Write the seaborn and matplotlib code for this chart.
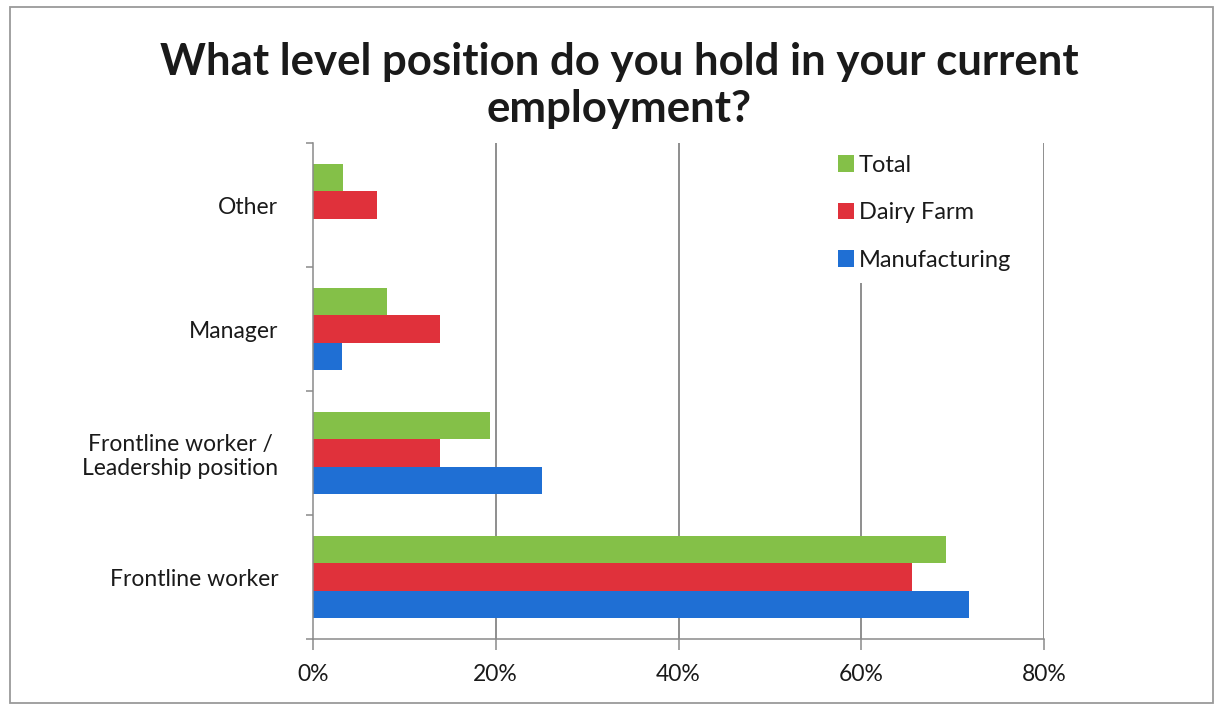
import matplotlib
matplotlib.use("Agg")
import matplotlib.pyplot as plt
from matplotlib.patches import Rectangle
from matplotlib.ticker import FixedLocator, PercentFormatter
import seaborn as sns
import pandas as pd

# Survey results (% of respondents)
categories = ["Other", "Manager", "Frontline worker /\nLeadership position", "Frontline worker"]
groups = ["Total", "Dairy Farm", "Manufacturing"]
total = [3.3, 8.1, 19.4, 69.3]
dairy_farm = [7.0, 13.9, 13.9, 65.5]
manufacturing = [0.0, 3.2, 25.1, 71.8]
x_ticks = [0, 20, 40, 60, 80]

colors = {"Total": "#84C048", "Dairy Farm": "#E0313B", "Manufacturing": "#1F6FD4"}

rows = []
for grp, vals in zip(groups, [total, dairy_farm, manufacturing]):
    for cat, v in zip(categories, vals):
        rows.append({"Position": cat, "Group": grp, "Percent": v})
df = pd.DataFrame(rows)

sns.set_theme(style="white")
plt.rcParams["font.family"] = ["Lato", "DejaVu Sans"]
text_color = "#1a1a1a"

fig = plt.figure(figsize=(12.16, 7.06), dpi=100)
ax = fig.add_axes([313 / 1216, 1 - 639 / 706, (1044 - 313) / 1216, (639 - 143) / 706])

sns.barplot(data=df, y="Position", x="Percent", hue="Group", order=categories,
            hue_order=groups, palette=colors, orient="h", width=0.66,
            saturation=1, errorbar=None, ax=ax, linewidth=0)

ax.set_xlim(0, 80)
ax.set_ylim(3.5, -0.5)
ax.set_xlabel("")
ax.set_ylabel("")

ax.xaxis.set_major_locator(FixedLocator(x_ticks))
ax.xaxis.set_major_formatter(PercentFormatter(decimals=0))
for x in x_ticks[1:]:
    ax.axvline(x, color="#707070", lw=1.1, zorder=0)

for side in ["top", "right"]:
    ax.spines[side].set_visible(False)
for side in ["left", "bottom"]:
    ax.spines[side].set_color("#8a8a8a")
    ax.spines[side].set_linewidth(1.1)

ax.tick_params(axis="x", which="major", length=8, width=1.1, color="#8a8a8a",
               direction="out", bottom=True, pad=10, labelsize=16.5, labelcolor=text_color)
ax.tick_params(axis="y", which="major", length=0, pad=25, labelsize=16.5, labelcolor=text_color)
ax.yaxis.set_minor_locator(FixedLocator([-0.5, 0.5, 1.5, 2.5, 3.5]))
ax.tick_params(axis="y", which="minor", length=5, width=1.1, color="#8a8a8a",
               direction="out", left=True)
for lbl in ax.get_yticklabels():
    lbl.set_multialignment("center")

leg = ax.legend(loc="upper left", bbox_to_anchor=(826 / 1216, 1 - 143 / 706),
                bbox_transform=fig.transFigure, frameon=True, fontsize=17,
                handlelength=0.68, handleheight=0.68, handletextpad=0.2,
                labelspacing=1.12, borderpad=0.5, borderaxespad=0)
leg.get_frame().set_facecolor("white")
leg.get_frame().set_edgecolor("none")
leg.get_frame().set_alpha(1)
leg.set_zorder(5)
for t in leg.get_texts():
    t.set_color(text_color)

fig.text(0.509, 1 - 62 / 706, "What level position do you hold in your current",
         ha="center", va="center", fontsize=31.5, fontweight="bold", color=text_color)
fig.text(0.509, 1 - 109 / 706, "employment?",
         ha="center", va="center", fontsize=31.5, fontweight="bold", color=text_color)

fig.patches.append(Rectangle((10 / 1216, 3 / 706), 1203 / 1216, 696 / 706,
                             transform=fig.transFigure, fill=False,
                             edgecolor="#9a9a9a", lw=1.3))

fig.savefig("out.png", dpi=100, facecolor="white")
